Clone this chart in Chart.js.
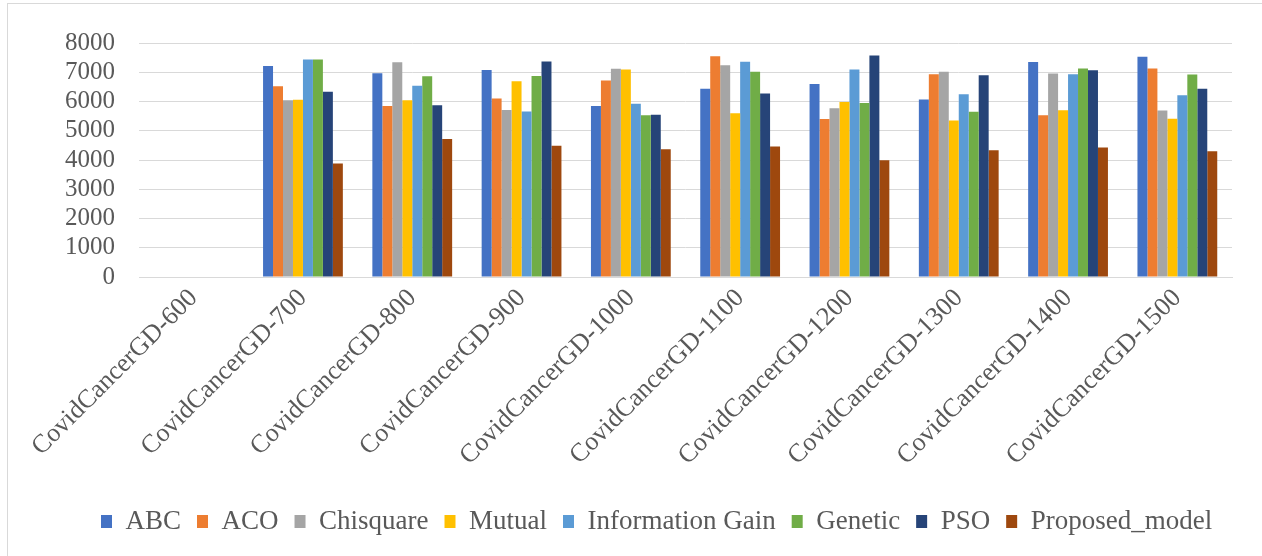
<!DOCTYPE html>
<html>
<head>
<meta charset="utf-8">
<script src="https://cdn.jsdelivr.net/npm/chart.js@4"></script>
<style>
  html, body { margin: 0; padding: 0; background: #fff; overflow: hidden; }
  #frame {
    position: absolute; left: 7px; top: 3px;
    width: 1298px; height: 560px;
    border-left: 1px solid #d9d9d9; border-top: 1px solid #d9d9d9;
    box-sizing: border-box;
  }
  #wrap { position: absolute; left: 0; top: 0; width: 1297px; height: 553px; }
</style>
</head>
<body>
<div id="frame"><div id="wrap"><canvas id="c"></canvas></div></div>
<script>
const categories = [
  'CovidCancerGD-600', 'CovidCancerGD-700', 'CovidCancerGD-800', 'CovidCancerGD-900',
  'CovidCancerGD-1000', 'CovidCancerGD-1100', 'CovidCancerGD-1200', 'CovidCancerGD-1300',
  'CovidCancerGD-1400', 'CovidCancerGD-1500'
];
const yTicks = [0, 1000, 2000, 3000, 4000, 5000, 6000, 7000, 8000];

const abc      = [null, 7210, 6970, 7080, 5850, 6440, 6600, 6070, 7350, 7530];
const aco      = [null, 6520, 5850, 6100, 6720, 7550, 5400, 6930, 5530, 7130];
const chisq    = [null, 6040, 7340, 5710, 7120, 7240, 5770, 7020, 6960, 5690];
const mutual   = [null, 6060, 6040, 6690, 7090, 5600, 5980, 5350, 5700, 5410];
const infoGain = [null, 7440, 6540, 5660, 5920, 7360, 7090, 6250, 6930, 6210];
const genetic  = [null, 7440, 6860, 6870, 5530, 7020, 5950, 5650, 7130, 6920];
const pso      = [null, 6330, 5870, 7370, 5550, 6270, 7570, 6900, 7070, 6440];
const proposed = [null, 3880, 4720, 4490, 4370, 4460, 3990, 4330, 4430, 4300];

const seriesNames  = ['ABC', 'ACO', 'Chisquare', 'Mutual', 'Information Gain', 'Genetic', 'PSO', 'Proposed_model'];
const seriesValues = [abc, aco, chisq, mutual, infoGain, genetic, pso, proposed];
const seriesColors = ['#4472C4', '#ED7D31', '#A5A5A5', '#FFC000', '#5B9BD5', '#70AD47', '#264478', '#9E480E'];

const FONT = "'Liberation Serif', 'Times New Roman', serif";
const TEXT = '#595959';

// nudge the legend row to the right after layout
const legendShift = {
  id: 'legendShift',
  afterLayout(chart) {
    if (chart.legend) {
      chart.legend.left += 77;
      chart.legend.right += 77;
    }
  }
};

new Chart(document.getElementById('c'), {
  type: 'bar',
  data: {
    labels: categories,
    datasets: seriesNames.map((name, i) => ({
      label: name,
      data: seriesValues[i],
      backgroundColor: seriesColors[i],
      borderWidth: 0,
      categoryPercentage: 0.73,
      barPercentage: 1.0
    }))
  },
  plugins: [legendShift],
  options: {
    responsive: true,
    maintainAspectRatio: false,
    animation: false,
    layout: { padding: { top: 38, right: 73, bottom: 12, left: 0 } },
    plugins: {
      tooltip: { enabled: false },
      legend: {
        position: 'bottom',
        align: 'start',
        labels: {
          font: { family: FONT, size: 27 },
          color: TEXT,
          boxWidth: 11,
          boxHeight: 13,
          padding: 16
        }
      }
    },
    scales: {
      x: {
        grid: { display: false, drawTicks: false },
        border: { display: true, color: '#d9d9d9' },
        ticks: {
          font: { family: FONT, size: 26 },
          color: TEXT,
          maxRotation: 45,
          minRotation: 45,
          autoSkip: false,
          padding: 6
        },
        afterFit: s => { s.height = 215; }
      },
      y: {
        min: 0,
        max: 8000,
        afterBuildTicks: s => { s.ticks = yTicks.map(v => ({ value: v })); },
        grid: { color: '#d9d9d9', lineWidth: 1, drawTicks: false },
        border: { display: false },
        ticks: {
          font: { family: FONT, size: 25 },
          color: TEXT,
          padding: 24,
          autoSkip: false,
          callback: v => String(v)
        },
        afterFit: s => { s.width = 131; }
      }
    }
  }
});
</script>
</body>
</html>
